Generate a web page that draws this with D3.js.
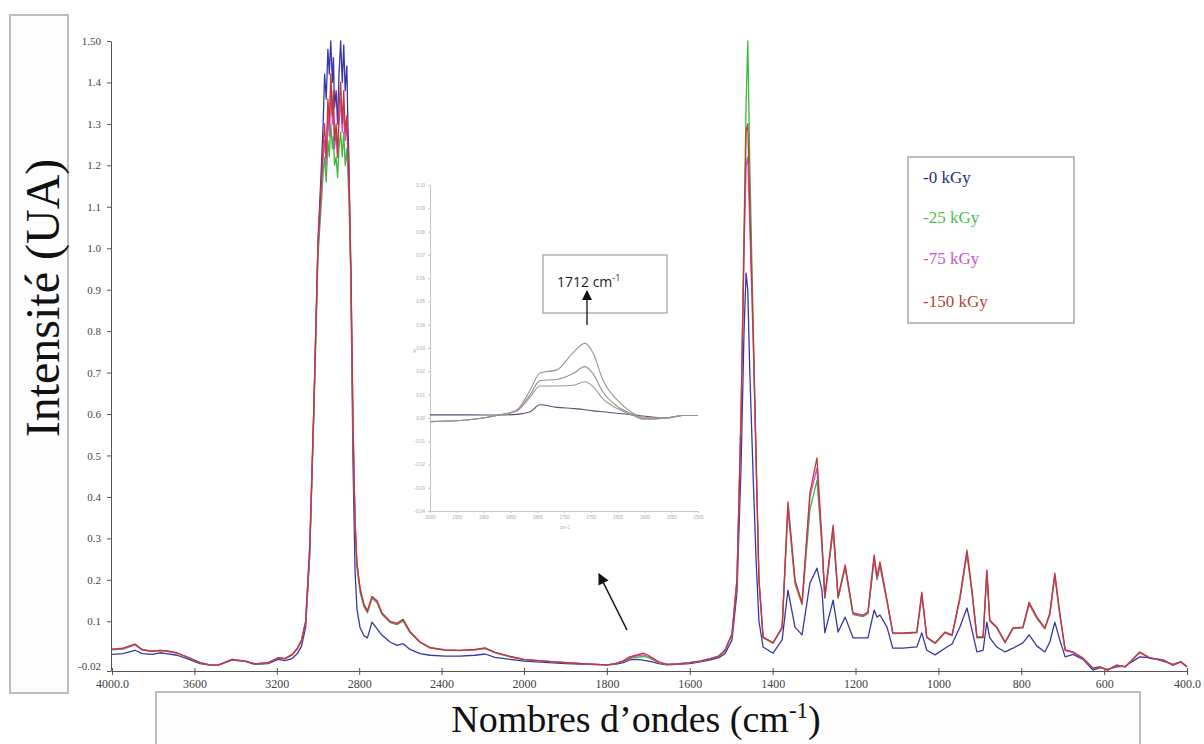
<!DOCTYPE html>
<html><head><meta charset="utf-8">
<script src="https://cdn.jsdelivr.net/npm/d3@7"></script>
<style>body{margin:0;background:#fff} svg{display:block}</style>
</head><body><svg id="c" width="1204" height="744"></svg>
<script>
// ---------- DATA ----------
const wavenumbers = [
4000,3947,3888,3854,3806,3767,3738,3684,3626,3573,
3524,3485,3417,3354,3306,3243,3194,3160,3126,3100,
3080,3060,3040,3020,3000,
2985,2975,2968,2960,2952,2945,2938,2930,2925,2920,2912,2905,2898,2890,2882,2875,2868,2860,2855,2850,
2840,2830,2820,2811,
2796,2777,2760,2738,2714,2689,2650,2617,2587,2553,
2505,2456,2383,2311,2238,2189,2141,2068,2000,1950,
1900,1850,1800,1780,1760,1745,1730,1712,1700,1690,
1675,1655,1630,1600,1575,1550,1530,1515,1498,1486,
1476,1469,1464,1460,1455,1447,1440,1433,1423,1399,
1377,1363,1346,1329,1310,1293,1281,1274,1254,1242,
1225,1206,1182,1170,1155,1148,1141,1124,1110,1085,
1052,1040,1028,1008,984,967,948,931,919,907,
892,883,876,859,839,820,796,781,762,743,
731,719,707,694,675,651,627,610,592,570,
549,514,489,458,434,415,400];

const i0 = [
0.020,0.022,0.030,0.022,0.020,0.024,0.022,0.018,0.008,-0.002,
-0.006,-0.006,0.006,0.003,-0.004,-0.002,0.008,0.005,0.010,0.022,
0.040,0.085,0.26,0.62,1.02,
1.18,1.30,1.42,1.36,1.48,1.42,1.50,1.40,1.46,1.34,1.38,1.30,1.42,1.50,1.40,1.49,1.38,1.44,1.30,1.22,
0.90,0.48,0.22,0.13,
0.085,0.065,0.060,0.098,0.082,0.066,0.050,0.042,0.046,0.032,
0.022,0.018,0.016,0.016,0.018,0.021,0.013,0.008,0.004,0.001,
-0.002,-0.004,-0.005,-0.004,0.000,0.007,0.008,0.006,0.004,0.002,
-0.002,-0.005,-0.004,-0.002,0.002,0.007,0.012,0.022,0.055,0.17,
0.48,0.80,0.94,0.90,0.70,0.45,0.25,0.10,0.038,0.023,
0.055,0.175,0.086,0.067,0.192,0.228,0.175,0.072,0.151,0.074,
0.110,0.060,0.060,0.060,0.127,0.110,0.115,0.086,0.035,0.035,
0.038,0.072,0.030,0.019,0.035,0.045,0.086,0.132,0.079,0.026,
0.030,0.098,0.060,0.038,0.026,0.035,0.048,0.067,0.040,0.026,
0.050,0.098,0.055,0.014,0.020,0.008,-0.018,-0.012,-0.016,-0.010,
-0.008,0.014,0.012,0.004,-0.004,0.002,-0.010];

const i25 = [
0.031,0.033,0.043,0.031,0.027,0.029,0.028,0.023,0.011,0.000,
-0.006,-0.006,0.007,0.004,-0.003,0.000,0.011,0.010,0.018,0.033,
0.052,0.095,0.27,0.60,0.98,
1.10,1.18,1.22,1.16,1.26,1.22,1.30,1.24,1.27,1.20,1.22,1.17,1.24,1.28,1.22,1.28,1.20,1.24,1.18,1.12,
0.92,0.56,0.33,0.23,
0.17,0.135,0.12,0.155,0.145,0.116,0.097,0.092,0.100,0.072,
0.049,0.035,0.030,0.029,0.031,0.034,0.024,0.014,0.007,0.004,
0.000,-0.003,-0.005,-0.003,0.003,0.010,0.013,0.015,0.012,0.008,
0.000,-0.004,-0.003,0.000,0.004,0.010,0.015,0.028,0.068,0.20,
0.62,1.05,1.35,1.50,1.20,0.82,0.50,0.20,0.060,0.047,
0.083,0.370,0.190,0.140,0.370,0.440,0.280,0.155,0.318,0.155,
0.228,0.116,0.111,0.118,0.248,0.200,0.232,0.147,0.070,0.070,
0.072,0.162,0.060,0.046,0.072,0.065,0.153,0.260,0.169,0.060,
0.060,0.216,0.100,0.084,0.048,0.082,0.084,0.140,0.106,0.082,
0.116,0.208,0.116,0.030,0.025,0.010,-0.013,-0.010,-0.018,-0.006,
-0.010,0.025,0.010,0.007,-0.006,0.002,-0.010];

const i75 = [
0.032,0.034,0.044,0.031,0.028,0.030,0.028,0.023,0.012,0.000,
-0.006,-0.006,0.008,0.004,-0.003,0.000,0.012,0.010,0.019,0.034,
0.054,0.10,0.28,0.61,1.00,
1.13,1.22,1.26,1.20,1.32,1.27,1.38,1.30,1.34,1.24,1.28,1.22,1.30,1.36,1.28,1.34,1.26,1.30,1.22,1.16,
0.94,0.57,0.34,0.24,
0.18,0.14,0.125,0.158,0.148,0.119,0.099,0.094,0.104,0.074,
0.050,0.036,0.031,0.030,0.031,0.035,0.025,0.015,0.008,0.004,
0.000,-0.003,-0.005,-0.002,0.004,0.012,0.016,0.019,0.015,0.010,
0.001,-0.004,-0.003,0.000,0.004,0.010,0.016,0.030,0.07,0.20,
0.60,1.00,1.20,1.22,1.05,0.78,0.49,0.20,0.062,0.048,
0.085,0.380,0.196,0.142,0.400,0.470,0.290,0.157,0.325,0.157,
0.232,0.118,0.113,0.120,0.254,0.204,0.238,0.149,0.071,0.071,
0.073,0.166,0.061,0.047,0.073,0.066,0.156,0.266,0.172,0.061,
0.061,0.220,0.102,0.085,0.049,0.083,0.085,0.143,0.108,0.083,
0.118,0.212,0.118,0.030,0.025,0.011,-0.013,-0.010,-0.018,-0.006,
-0.010,0.025,0.011,0.007,-0.006,0.002,-0.010];

const i150 = [
0.033,0.035,0.045,0.032,0.028,0.030,0.029,0.024,0.012,0.000,
-0.005,-0.006,0.008,0.004,-0.003,0.000,0.012,0.010,0.020,0.035,
0.055,0.10,0.28,0.62,1.01,
1.15,1.25,1.30,1.22,1.36,1.30,1.42,1.32,1.38,1.26,1.30,1.22,1.34,1.40,1.30,1.38,1.28,1.32,1.24,1.18,
0.95,0.58,0.34,0.24,
0.18,0.14,0.125,0.16,0.15,0.12,0.10,0.095,0.105,0.075,
0.050,0.037,0.031,0.030,0.032,0.036,0.025,0.015,0.008,0.004,
0.000,-0.003,-0.005,-0.002,0.005,0.014,0.018,0.023,0.018,0.012,
0.002,-0.004,-0.003,0.000,0.004,0.010,0.016,0.030,0.07,0.20,
0.60,1.00,1.28,1.30,1.10,0.80,0.50,0.20,0.062,0.048,
0.086,0.388,0.200,0.144,0.410,0.494,0.296,0.159,0.332,0.159,
0.236,0.120,0.115,0.122,0.260,0.207,0.243,0.151,0.072,0.072,
0.074,0.170,0.062,0.048,0.074,0.067,0.159,0.272,0.175,0.062,
0.062,0.224,0.103,0.086,0.050,0.084,0.086,0.146,0.110,0.084,
0.120,0.216,0.120,0.031,0.026,0.011,-0.013,-0.010,-0.018,-0.006,
-0.010,0.026,0.011,0.007,-0.006,0.002,-0.010];

const seriesNames = ["-0 kGy", "-25 kGy", "-75 kGy", "-150 kGy"];
const seriesLineColors = ["#3a36a8", "#3cb83c", "#d646d0", "#c23a38"];
const seriesTextColors = ["#2a2a8c", "#4cc04c", "#c458c4", "#b04636"];

const xTickValues = [4000, 3600, 3200, 2800, 2400, 2000, 1800, 1600, 1400, 1200, 1000, 800, 600, 400];
const xTickLabels = ["4000.0", "3600", "3200", "2800", "2400", "2000", "1800", "1600", "1400", "1200", "1000", "800", "600", "400.0"];
const yTickValues = [1.5, 1.4, 1.3, 1.2, 1.1, 1.0, 0.9, 0.8, 0.7, 0.6, 0.5, 0.4, 0.3, 0.2, 0.1, -0.02];
const yTickLabels = ["1.50", "1.4", "1.3", "1.2", "1.1", "1.0", "0.9", "0.8", "0.7", "0.6", "0.5", "0.4", "0.3", "0.2", "0.1", "-0.02"];

// inset (zoom on carbonyl region)
const insetWavenumbers = [2000, 1931, 1869, 1838, 1813, 1795, 1763, 1733, 1711, 1696, 1677, 1651, 1621, 1603, 1558, 1528, 1500];
const inset0   = [0.0013, 0.0013, 0.0012, 0.0015, 0.0026, 0.0056, 0.0045, 0.0040, 0.0035, 0.0030, 0.0026, 0.0020, 0.0013, 0.0008, 0.0000, 0.0010, 0.0010];
const inset25  = [-0.0016, -0.0009, 0.0013, 0.0030, 0.0090, 0.0137, 0.0137, 0.0140, 0.0155, 0.0135, 0.0080, 0.0040, 0.0010, -0.0005, 0.0000, 0.0010, 0.0010];
const inset75  = [-0.0016, -0.0009, 0.0013, 0.0030, 0.0100, 0.0160, 0.0165, 0.0190, 0.0220, 0.0190, 0.0110, 0.0050, 0.0015, -0.0005, 0.0000, 0.0010, 0.0010];
const inset150 = [-0.0016, -0.0009, 0.0013, 0.0034, 0.0120, 0.0193, 0.0206, 0.0280, 0.0320, 0.0280, 0.0160, 0.0077, 0.0020, 0.0000, 0.0000, 0.0010, 0.0010];
const insetXTicks = [2000, 1950, 1900, 1850, 1800, 1750, 1700, 1650, 1600, 1550, 1500];
const insetYTicks = [0.10, 0.09, 0.08, 0.07, 0.06, 0.05, 0.04, 0.03, 0.02, 0.01, 0.00, -0.01, -0.02, -0.03, -0.04];
const insetLineColors = ["#5c4c70", "#9a9a9a", "#949494", "#a09096"];

// ---------- DRAWING ----------
const svg = d3.select("#c");
const serif = "'Liberation Serif','DejaVu Serif',serif";

// wavenumber axis: expanded scale below 2000 cm-1 (as in the original plot)
const x = d3.scaleLinear().domain([4000, 2000, 400]).range([112, 524, 1187]);
const y = d3.scaleLinear().domain([-0.02, 1.5]).range([671, 41]);

// title boxes
svg.append("rect").attr("x", 10).attr("y", 15).attr("width", 58).attr("height", 678)
  .attr("fill", "#fdfdfd").attr("stroke", "#bdbdbd").attr("stroke-width", 2);
svg.append("rect").attr("x", 156).attr("y", 692).attr("width", 984).attr("height", 70)
  .attr("fill", "#fdfdfd").attr("stroke", "#bdbdbd").attr("stroke-width", 2);

// axis titles
svg.append("text").attr("transform", "translate(59,298) rotate(-90)")
  .attr("text-anchor", "middle").attr("font-family", serif).attr("font-size", 48)
  .attr("fill", "#111").text("Intensité (UA)");
const xt = svg.append("text").attr("x", 636).attr("y", 732).attr("text-anchor", "middle")
  .attr("font-family", serif).attr("font-size", 38).attr("fill", "#111");
xt.append("tspan").text("Nombres d’ondes (cm");
xt.append("tspan").attr("font-size", 23).attr("dy", -14).text("-1");
xt.append("tspan").attr("dy", 14).text(")");

// axes
const yAxis = d3.axisLeft(y).tickValues(yTickValues)
  .tickFormat((d, i) => yTickLabels[i]).tickSizeInner(4).tickSizeOuter(0).tickPadding(6);
const gy = svg.append("g").attr("transform", "translate(111,0)").call(yAxis);
gy.selectAll("text").attr("font-family", serif).attr("font-size", 11).attr("fill", "#444");
gy.selectAll("line,path").attr("stroke", "#555");
gy.selectAll(".tick").filter((d, i) => i === yTickValues.length - 1).select("text").attr("dy", "-0.15em");

const xAxis = d3.axisBottom(x).tickValues(xTickValues)
  .tickFormat((d, i) => xTickLabels[i]).tickSizeInner(4).tickSizeOuter(0).tickPadding(4);
const gx = svg.append("g").attr("transform", "translate(0,671)").call(xAxis);
gx.selectAll("text").attr("font-family", serif).attr("font-size", 12).attr("fill", "#444");
gx.selectAll("line,path").attr("stroke", "#555");
gx.selectAll(".tick line").attr("y1", -3);

// spectra
const allSeries = [i0, i25, i75, i150];
const line = d3.line().x(d => x(d[0])).y(d => y(d[1]));
allSeries.forEach((vals, k) => {
  svg.append("path").datum(wavenumbers.map((w, j) => [w, vals[j]]))
    .attr("d", line).attr("fill", "none").attr("stroke", seriesLineColors[k])
    .attr("stroke-width", 1.3).attr("stroke-linejoin", "round");
});

// legend
svg.append("rect").attr("x", 908).attr("y", 157).attr("width", 166).attr("height", 166)
  .attr("fill", "#fff").attr("stroke", "#a8a8a8").attr("stroke-width", 1.5);
const legendY = [183, 223, 264, 307];
seriesNames.forEach((n, k) => {
  svg.append("text").attr("x", 923).attr("y", legendY[k]).attr("font-family", serif)
    .attr("font-size", 17).attr("fill", seriesTextColors[k]).text(n);
});

// arrow marker
const defs = svg.append("defs");
defs.append("marker").attr("id", "ah").attr("viewBox", "0 0 10 10").attr("refX", 9).attr("refY", 5)
  .attr("markerWidth", 7).attr("markerHeight", 7).attr("orient", "auto")
  .append("path").attr("d", "M0,0 L10,5 L0,10 Z").attr("fill", "#111");

// main arrow pointing to the 1712 cm-1 band
svg.append("line").attr("x1", 627).attr("y1", 630).attr("x2", 599).attr("y2", 574)
  .attr("stroke", "#111").attr("stroke-width", 1.6).attr("marker-end", "url(#ah)");

// ---------- INSET ----------
const ix = d3.scaleLinear().domain([2000, 1500]).range([430, 698]);
const iy = d3.scaleLinear().domain([-0.04, 0.10]).range([511, 185]);
const gi = svg.append("g");
const iyAxis = d3.axisLeft(iy).tickValues(insetYTicks).tickFormat(d3.format(".2f"))
  .tickSizeInner(2).tickSizeOuter(0).tickPadding(3);
const giy = gi.append("g").attr("transform", "translate(430,0)").call(iyAxis);
const ixAxis = d3.axisBottom(ix).tickValues(insetXTicks).tickFormat(d3.format("d"))
  .tickSizeInner(2).tickSizeOuter(0).tickPadding(3);
const gix = gi.append("g").attr("transform", "translate(0,511)").call(ixAxis);
[giy, gix].forEach(g => {
  g.selectAll("line,path").attr("stroke", "#c4c4c4");
  g.selectAll("text").attr("font-family", "'Liberation Sans',sans-serif").attr("font-size", 4.5).attr("fill", "#aaa");
});
gi.append("text").attr("x", 413).attr("y", 353).attr("font-family", "'Liberation Sans',sans-serif")
  .attr("font-size", 4.5).attr("fill", "#aaa").text("A");
gi.append("text").attr("x", 560).attr("y", 529).attr("font-family", "'Liberation Sans',sans-serif")
  .attr("font-size", 4.5).attr("fill", "#aaa").text("cm-1");

const iline = d3.line().x(d => ix(d[0])).y(d => iy(d[1])).curve(d3.curveMonotoneX);
[inset0, inset25, inset75, inset150].forEach((vals, k) => {
  gi.append("path").datum(insetWavenumbers.map((w, j) => [w, vals[j]]))
    .attr("d", iline).attr("fill", "none").attr("stroke", insetLineColors[k]).attr("stroke-width", 1.1);
});

// 1712 cm-1 label box
gi.append("rect").attr("x", 543).attr("y", 255).attr("width", 124).attr("height", 58)
  .attr("fill", "#fff").attr("stroke", "#8a8a8a").attr("stroke-width", 1);
const lt = gi.append("text").attr("x", 557).attr("y", 287)
  .attr("font-family", "'Open Sans','Liberation Sans',sans-serif").attr("font-size", 14).attr("fill", "#222");
lt.append("tspan").text("1712 cm");
lt.append("tspan").attr("font-size", 9).attr("dy", -6).text("-1");
gi.append("line").attr("x1", 587).attr("y1", 325).attr("x2", 587).attr("y2", 291)
  .attr("stroke", "#333").attr("stroke-width", 1.5).attr("marker-end", "url(#ah)");
</script>
</body></html>
